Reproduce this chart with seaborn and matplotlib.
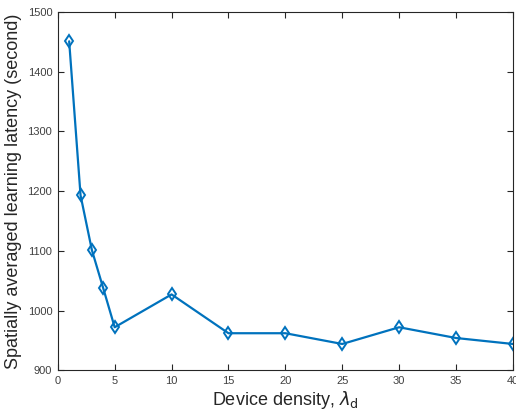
import matplotlib
matplotlib.use("Agg")
import matplotlib.pyplot as plt
import seaborn as sns
import pandas as pd

density = [1, 2, 3, 4, 5, 10, 15, 20, 25, 30, 35, 40]
latency = [1451, 1193, 1101, 1037, 972, 1027, 962, 962, 944, 972, 954, 944]

df = pd.DataFrame({"density": density, "latency": latency})

sns.set_style("white")
plt.rcParams["font.family"] = ["Liberation Sans", "DejaVu Sans"]

fig = plt.figure(figsize=(5.16, 4.16), dpi=100)
ax = fig.add_axes([0.112, 0.11, 0.882, 0.861])
sns.lineplot(x="density", y="latency", data=df, ax=ax, color="#0072BD",
             linewidth=1.6, marker="d", markersize=6.5, markerfacecolor="none",
             markeredgecolor="#0072BD", markeredgewidth=1.4)

ax.set_xlim(0, 40)
ax.set_ylim(900, 1500)
ax.set_xticks(range(0, 41, 5))
ax.set_yticks(range(900, 1501, 100))
ax.tick_params(direction="in", bottom=True, left=True, top=True, right=True,
               length=4, width=0.8, labelsize=8, color="#262626",
               labelcolor="#404040", pad=4)
for s in ax.spines.values():
    s.set_color("#262626")
    s.set_linewidth(0.8)
ax.set_xlabel(r"Device density, $\lambda_\mathrm{d}$", fontsize=13, labelpad=2,
              color="#262626")
ax.set_ylabel("Spatially averaged learning latency (second)", fontsize=13,
              labelpad=4, color="#262626")

fig.savefig("out.png", dpi=100)
